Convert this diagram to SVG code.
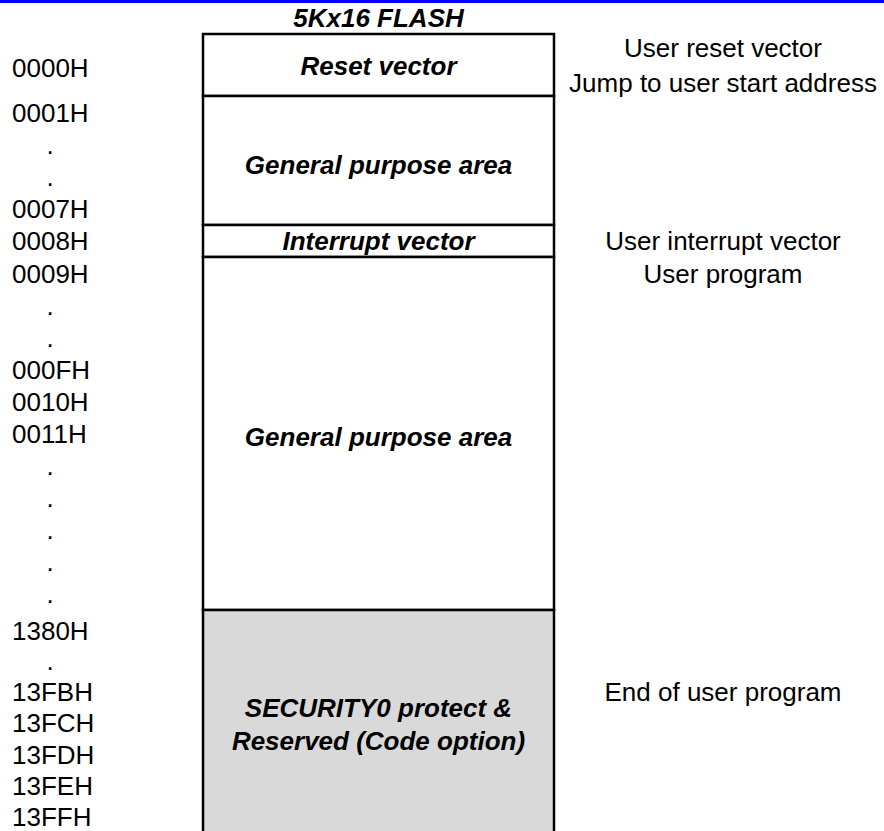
<svg xmlns="http://www.w3.org/2000/svg" width="884" height="831" viewBox="0 0 884 831">
<style>
.lbl{font-family:"Liberation Sans",Arial,sans-serif;font-size:26px;fill:#000}
.dot{font-family:"Liberation Sans",Arial,sans-serif;font-size:26px;fill:#000;text-anchor:middle}
.note{font-family:"Liberation Sans",Arial,sans-serif;font-size:26px;fill:#000;text-anchor:middle}
.bi{font-family:"Liberation Sans",Arial,sans-serif;font-size:26px;font-weight:bold;font-style:italic;fill:#000;text-anchor:middle}
.cell{fill:#fff;stroke:#000;stroke-width:2.5}
.gray{fill:#d9d9d9;stroke:#000;stroke-width:2.5}
</style>
<rect x="0" y="0" width="884" height="831" fill="#fff"/>
<rect x="0" y="0" width="884" height="3" fill="#0000ff"/>
<g id="title"><text class="bi" x="378.5" y="27">5Kx16 FLASH</text></g>
<g id="reset-vector">
<rect class="cell" x="203" y="34" width="351" height="62"/>
<text class="bi" x="378.5" y="75">Reset vector</text>
</g>
<g id="gp-area-1">
<rect class="cell" x="203" y="96" width="351" height="129"/>
<text class="bi" x="378.5" y="174">General purpose area</text>
</g>
<g id="interrupt-vector">
<rect class="cell" x="203" y="225" width="351" height="32"/>
<text class="bi" x="378.5" y="250">Interrupt vector</text>
</g>
<g id="gp-area-2">
<rect class="cell" x="203" y="257" width="351" height="353"/>
<text class="bi" x="378.5" y="446">General purpose area</text>
</g>
<g id="security">
<rect class="gray" x="203" y="610" width="351" height="240"/>
<text class="bi" x="378.5" y="717">SECURITY0 protect &amp;</text>
<text class="bi" x="378.5" y="750">Reserved (Code option)</text>
</g>
<g id="addresses">
<text class="lbl" x="12" y="76.5">0000H</text>
<text class="lbl" x="12" y="122">0001H</text>
<text class="dot" x="50" y="154">.</text>
<text class="dot" x="50" y="186">.</text>
<text class="lbl" x="12" y="218">0007H</text>
<text class="lbl" x="12" y="250">0008H</text>
<text class="lbl" x="12" y="282.5">0009H</text>
<text class="dot" x="50" y="315">.</text>
<text class="dot" x="50" y="347">.</text>
<text class="lbl" x="12" y="379">000FH</text>
<text class="lbl" x="12" y="411">0010H</text>
<text class="lbl" x="12" y="443">0011H</text>
<text class="dot" x="50" y="475">.</text>
<text class="dot" x="50" y="507">.</text>
<text class="dot" x="50" y="539">.</text>
<text class="dot" x="50" y="571">.</text>
<text class="dot" x="50" y="603">.</text>
<text class="lbl" x="12" y="640">1380H</text>
<text class="dot" x="50" y="670">.</text>
<text class="lbl" x="12" y="701">13FBH</text>
<text class="lbl" x="12" y="732">13FCH</text>
<text class="lbl" x="12" y="764">13FDH</text>
<text class="lbl" x="12" y="795">13FEH</text>
<text class="lbl" x="12" y="826">13FFH</text>
</g>
<g id="notes">
<text class="note" x="723" y="57">User reset vector</text>
<text class="note" x="723" y="92">Jump to user start address</text>
<text class="note" x="723" y="250">User interrupt vector</text>
<text class="note" x="723" y="282.5">User program</text>
<text class="note" x="723" y="701">End of user program</text>
</g>
<g id="connectors"></g>
</svg>
